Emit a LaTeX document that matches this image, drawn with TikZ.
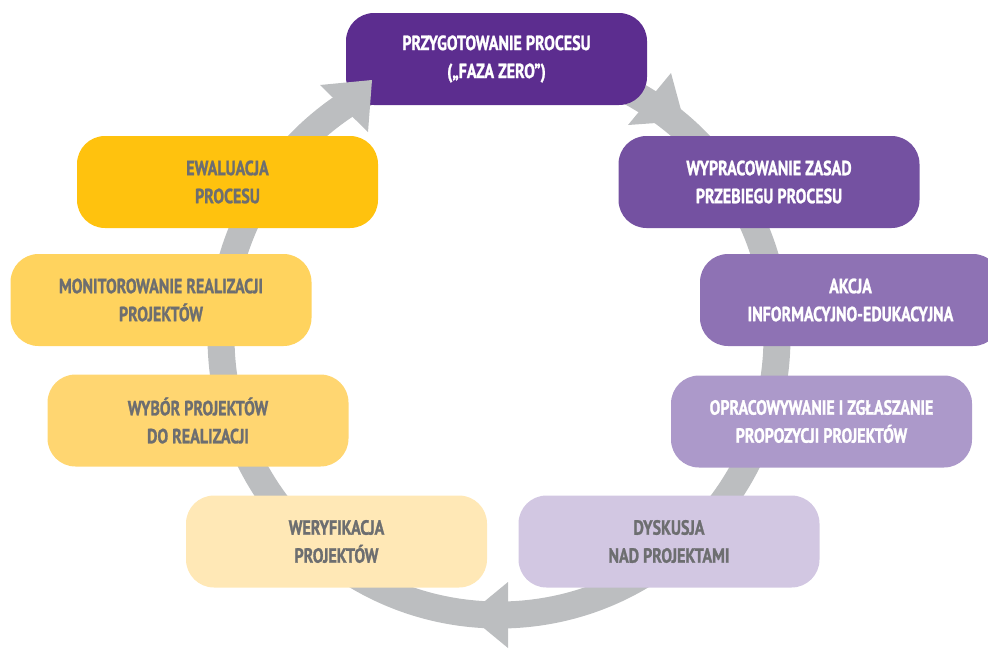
\documentclass[tikz,border=0pt]{standalone}
\usepackage{fontspec}
\newfontfamily\stagefont[FakeStretch=0.78,BoldFont={* Bold},BoldFeatures={FakeBold=1.2}]{PT Sans}
\definecolor{ringgray}{HTML}{BCBEC0}
\definecolor{txtgray}{HTML}{6D6E70}
\definecolor{cA}{HTML}{5C2D8F}
\definecolor{cB}{HTML}{7451A1}
\definecolor{cC}{HTML}{8E72B4}
\definecolor{cD}{HTML}{AC99CA}
\definecolor{cE}{HTML}{D2C7E2}
\definecolor{cF}{HTML}{FFE8B6}
\definecolor{cG}{HTML}{FFD671}
\definecolor{cH}{HTML}{FFD35E}
\definecolor{cI}{HTML}{FFC20E}
\begin{document}
\begin{tikzpicture}[x=1pt,y=-1pt,
  stage/.style={rounded corners=28pt, minimum width=301pt, minimum height=92pt,
    inner sep=0pt, align=center, font=\stagefont\bfseries\fontsize{20.5}{28}\selectfont},
  light/.style={stage, fill=#1, text=white},
  dark/.style={stage, fill=#1, text=txtgray},
  head/.style={fill=ringgray, draw=none}]
\useasboundingbox (0,0) rectangle (988,649);
% ring
\coordinate (ctr) at (499,337);
\draw[line width=27pt, ringgray] (ctr) circle[radius=278pt];
% stages
\node[light=cA] (s1) at (496.5,59) {PRZYGOTOWANIE PROCESU\\(„FAZA ZERO”)};
\node[light=cB] (s2) at (769,182) {WYPRACOWANIE ZASAD\\PRZEBIEGU PROCESU};
\node[light=cC] (s3) at (850.5,300) {AKCJA\\INFORMACYJNO-EDUKACYJNA};
\node[light=cD] (s4) at (821.5,421.5) {OPRACOWYWANIE I ZGŁASZANIE\\PROPOZYCJI PROJEKTÓW};
\node[dark=cE] (s5) at (669,541.5) {DYSKUSJA\\NAD PROJEKTAMI};
\node[dark=cF] (s6) at (336.5,541.5) {WERYFIKACJA\\PROJEKTÓW};
\node[dark=cG] (s7) at (198,420.5) {WYBÓR PROJEKTÓW\\DO REALIZACJI};
\node[dark=cH] (s8) at (161,300) {MONITOROWANIE REALIZACJI\\PROJEKTÓW};
\node[dark=cI] (s9) at (227.5,182) {EWALUACJA\\PROCESU};
% arrow heads
\fill[head] (372,80) -- (320,85) -- (368,132) -- cycle;
\fill[head] (671,73) -- (628,125) -- (684,121) -- cycle;
\fill[head] (508,582) -- (508,648) -- (468,615) -- cycle;
\end{tikzpicture}
\end{document}
